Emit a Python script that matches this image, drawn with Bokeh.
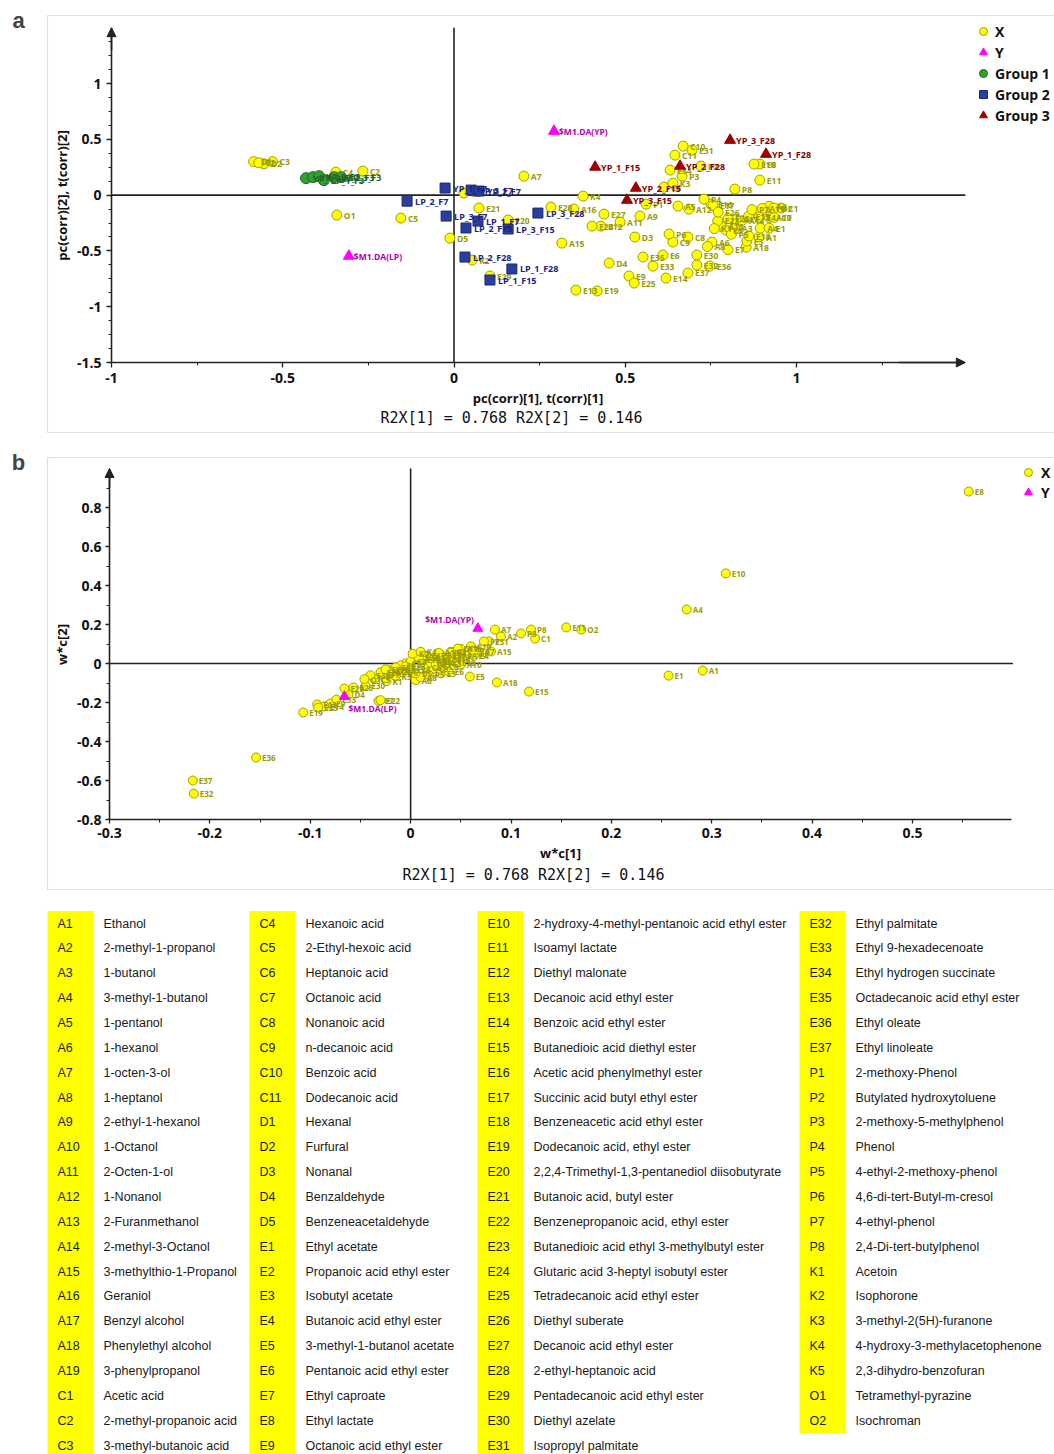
from bokeh.plotting import figure
from bokeh.models import (Range1d, Label, BoxAnnotation, Legend, LegendItem, LinearAxis,
                          SingleIntervalTicker, NumeralTickFormatter, Arrow, NormalHead,
                          ColumnDataSource)
from bokeh.layouts import column
from bokeh.embed import file_html
from bokeh.resources import INLINE
from bokeh.core.properties import value

# ---------------- data ----------------
codes = (["A%d" % i for i in range(1, 20)] + ["C%d" % i for i in range(1, 12)] +
         ["D%d" % i for i in range(1, 6)] + ["E%d" % i for i in range(1, 38)] +
         ["P%d" % i for i in range(1, 9)] + ["K%d" % i for i in range(1, 6)] +
         ["O1", "O2"])

names = [
    "Ethanol", "2-methyl-1-propanol", "1-butanol", "3-methyl-1-butanol", "1-pentanol",
    "1-hexanol", "1-octen-3-ol", "1-heptanol", "2-ethyl-1-hexanol", "1-Octanol",
    "2-Octen-1-ol", "1-Nonanol", "2-Furanmethanol", "2-methyl-3-Octanol",
    "3-methylthio-1-Propanol", "Geraniol", "Benzyl alcohol", "Phenylethyl alcohol",
    "3-phenylpropanol",
    "Acetic acid", "2-methyl-propanoic acid", "3-methyl-butanoic acid", "Hexanoic acid",
    "2-Ethyl-hexoic acid", "Heptanoic acid", "Octanoic acid", "Nonanoic acid",
    "n-decanoic acid", "Benzoic acid", "Dodecanoic acid",
    "Hexanal", "Furfural", "Nonanal", "Benzaldehyde", "Benzeneacetaldehyde",
    "Ethyl acetate", "Propanoic acid ethyl ester", "Isobutyl acetate",
    "Butanoic acid ethyl ester", "3-methyl-1-butanol acetate", "Pentanoic acid ethyl ester",
    "Ethyl caproate", "Ethyl lactate", "Octanoic acid ethyl ester",
    "2-hydroxy-4-methyl-pentanoic acid ethyl ester", "Isoamyl lactate", "Diethyl malonate",
    "Decanoic acid ethyl ester", "Benzoic acid ethyl ester", "Butanedioic acid diethyl ester",
    "Acetic acid phenylmethyl ester", "Succinic acid butyl ethyl ester",
    "Benzeneacetic acid ethyl ester", "Dodecanoic acid, ethyl ester",
    "2,2,4-Trimethyl-1,3-pentanediol diisobutyrate", "Butanoic acid, butyl ester",
    "Benzenepropanoic acid, ethyl ester", "Butanedioic acid ethyl 3-methylbutyl ester",
    "Glutaric acid 3-heptyl isobutyl ester", "Tetradecanoic acid ethyl ester",
    "Diethyl suberate", "Decanoic acid ethyl ester", "2-ethyl-heptanoic acid",
    "Pentadecanoic acid ethyl ester", "Diethyl azelate", "Isopropyl palmitate",
    "Ethyl palmitate", "Ethyl 9-hexadecenoate", "Ethyl hydrogen succinate",
    "Octadecanoic acid ethyl ester", "Ethyl oleate", "Ethyl linoleate",
    "2-methoxy-Phenol", "Butylated hydroxytoluene", "2-methoxy-5-methylphenol", "Phenol",
    "4-ethyl-2-methoxy-phenol", "4,6-di-tert-Butyl-m-cresol", "4-ethyl-phenol",
    "2,4-Di-tert-butylphenol",
    "Acetoin", "Isophorone", "3-methyl-2(5H)-furanone", "4-hydroxy-3-methylacetophenone",
    "2,3-dihydro-benzofuran",
    "Tetramethyl-pyrazine", "Isochroman"]

# panel a: X loadings (pc(corr)[1], pc(corr)[2]) in the order of `codes`
a_x = [0.891, 0.920, 0.820, 0.894, 0.654, 0.753, 0.204, 0.740, 0.543, 0.920,
       0.485, 0.686, 0.780, 0.840, 0.315, 0.350, 0.823, 0.853, 0.900,
       0.955, -0.266, -0.530, -0.345, -0.155, 0.613, 0.935, 0.683, 0.639, 0.669, 0.645,
       -0.585, -0.555, 0.528, 0.453, -0.012,
       0.920, -0.570, 0.855, 0.891, 0.794, 0.610, 0.800, 0.893, 0.511, 0.876,
       0.893, 0.429, 0.356, 0.619, 0.860, 0.750, 0.756, 0.861, 0.418, 0.158,
       0.073, 0.770, 0.800, 0.403, 0.526, 0.771, 0.438, 0.283, 0.105, 0.709,
       0.695, 0.709, 0.581, 0.631, 0.552, 0.747, 0.683,
       0.561, 0.721, 0.666, 0.730, 0.810, 0.628, 0.870, 0.820,
       0.760, 0.053, 0.639, 0.377, 0.029,
       -0.342, 0.934]
a_y = [-0.376, -0.100, -0.300, -0.296, -0.098, -0.421, 0.170, -0.460, -0.188, -0.200,
       -0.242, -0.125, -0.280, -0.230, -0.430, -0.125, -0.215, -0.466, -0.120,
       -0.116, 0.215, 0.300, 0.206, -0.206, 0.072, -0.200, -0.376, -0.421, 0.439, 0.358,
       0.300, 0.280, -0.376, -0.609, -0.385,
       -0.296, 0.290, -0.412, -0.197, -0.313, -0.537, -0.490, 0.278, -0.725, 0.278,
       0.134, -0.278, -0.851, -0.743, -0.190, -0.081, -0.095, -0.367, -0.859, -0.224,
       -0.116, -0.230, -0.210, -0.278, -0.788, -0.152, -0.170, -0.107, -0.725, -0.537,
       0.403, -0.627, -0.636, 0.224, -0.555, -0.636, -0.698,
       -0.081, 0.260, 0.170, -0.036, -0.350, -0.349, -0.130, 0.054,
       -0.300, -0.582, 0.107, -0.009, 0.018,
       -0.179, -0.116]

# panel a: sample scores by group
g1_names = ["YP_1_F3", "YP_2_F3", "YP_3_F3", "LP_1_F3", "LP_2_F3", "LP_3_F3"]
g1_x = [-0.432, -0.412, -0.394, -0.380, -0.350, -0.330]
g1_y = [0.152, 0.161, 0.170, 0.134, 0.161, 0.161]

g2_names = ["YP_1_F7", "YP_3_F7", "YP_2_F7", "LP_2_F7", "LP_3_F7", "LP_1_F7",
            "LP_2_F15", "LP_3_F15", "LP_3_F28", "LP_2_F28", "LP_1_F28", "LP_1_F15"]
g2_x = [-0.026, 0.050, 0.073, -0.137, -0.023, 0.070, 0.035, 0.158, 0.245, 0.032, 0.169, 0.105]
g2_y = [0.063, 0.045, 0.036, -0.054, -0.188, -0.233, -0.295, -0.304, -0.161, -0.555, -0.662, -0.761]

g3_names = ["YP_1_F15", "YP_2_F15", "YP_3_F15", "YP_2_F28", "YP_3_F28", "YP_1_F28"]
g3_x = [0.412, 0.531, 0.505, 0.660, 0.806, 0.911]
g3_y = [0.251, 0.063, -0.045, 0.260, 0.492, 0.367]

y_names = ["$M1.DA(YP)", "$M1.DA(LP)"]
ya_x = [0.292, -0.307]
ya_y = [0.573, -0.546]

# panel b: w*c[1], w*c[2] in the order of `codes`
b_x = [0.291, 0.090, 0.020, 0.275, 0.035, 0.005, 0.084, 0.010, 0.045, 0.050,
       0.030, 0.025, 0.018, -0.022, 0.080, 0.050, 0.028, 0.086, 0.055,
       0.124, 0.040, -0.005, 0.000, -0.036, 0.015, 0.068, 0.032, 0.022, 0.060, 0.047,
       -0.028, -0.020, -0.012, -0.062, 0.005,
       0.257, -0.010, 0.030, 0.063, 0.059, 0.038, -0.032, 0.556, -0.080, 0.314,
       0.155, 0.010, -0.093, -0.086, 0.118, 0.040, 0.015, 0.045, -0.107, -0.030,
       -0.015, -0.030, -0.005, 0.008, -0.092, -0.057, -0.025, 0.000, -0.066, -0.045,
       0.078, -0.216, -0.074, 0.020, -0.040, -0.154, -0.217,
       0.025, 0.040, 0.110, 0.063, 0.018, -0.008, 0.073, 0.120,
       -0.024, 0.002, 0.035, 0.010, -0.015,
       -0.046, 0.170]
b_y = [-0.036, 0.139, 0.010, 0.277, 0.030, -0.085, 0.174, -0.070, 0.040, -0.005,
       0.045, 0.020, 0.030, -0.035, 0.062, 0.075, 0.055, -0.097, 0.040,
       0.128, 0.060, 0.000, 0.012, -0.080, -0.020, 0.062, -0.015, -0.028, 0.088, 0.077,
       -0.055, -0.040, -0.030, -0.160, -0.050,
       -0.062, -0.010, -0.050, 0.040, -0.067, -0.040, -0.192, 0.882, -0.205, 0.462,
       0.185, 0.020, -0.210, -0.220, -0.144, 0.020, 0.040, 0.005, -0.251, -0.045,
       -0.020, -0.188, -0.015, 0.032, -0.226, -0.123, -0.030, -0.030, -0.128, -0.115,
       0.113, -0.667, -0.185, 0.005, -0.060, -0.482, -0.600,
       -0.005, 0.055, 0.154, 0.067, -0.058, -0.045, 0.113, 0.174,
       -0.090, 0.050, 0.000, 0.060, -0.065,
       -0.080, 0.174]
yb_x = [0.067, -0.066]
yb_y = [0.180, -0.169]

r2x_text = "R2X[1] = 0.768 R2X[2] = 0.146"

# axis extents (data units)
a_xlim, a_ylim = (-1.0, 1.493), (-1.5, 1.5)
b_xlim, b_ylim = (-0.3, 0.6), (-0.8, 1.0)

# ---------------- styles / layout ----------------
W = 1054
HA, HB, HT = 445, 452, 557
YEL, YEL_LINE, YEL_TXT = "#FFFF00", "#A0A000", "#9A9A00"
MAG, MAG_TXT = "#FF00FF", "#B000B0"
GRN, GRN_LINE, GRN_TXT = "#34A034", "#1E6E1E", "#226622"
BLU, BLU_LINE, BLU_TXT = "#2A3F9D", "#1A2A7A", "#1A237E"
RED, RED_TXT = "#A00000", "#800000"
AX = "#222222"
FONT = "Open Sans"


def make_panel(H, px_x, px_y):
    """px_x / px_y: two (data value, canvas pixel) reference pairs per axis."""
    (xv0, xp0), (xv1, xp1) = px_x
    (yv0, yp0), (yv1, yp1) = px_y
    sx = (xp1 - xp0) / (xv1 - xv0)
    sy = (yp0 - yp1) / (yv1 - yv0)
    x_start = xv0 - xp0 / sx
    y_top = yv0 + yp0 / sy
    p = figure(width=W, height=H, x_range=Range1d(x_start, x_start + W / sx),
               y_range=Range1d(y_top - H / sy, y_top), x_axis_location=None,
               y_axis_location=None, output_backend="svg", toolbar_location=None,
               outline_line_color=None, min_border=0)
    p.grid.visible = False
    return p


def add_axes(p, xlim, ylim, xend, yend, xint, xminor, yint, yminor, xlabel, ylabel,
             tick_out, standoff):
    xa = LinearAxis(fixed_location=ylim[0], bounds=(xlim[0] - 1e-4, xend),
                    ticker=SingleIntervalTicker(interval=xint, num_minor_ticks=xminor),
                    axis_label=xlabel)
    ya = LinearAxis(fixed_location=xlim[0], bounds=(ylim[0] - 1e-4, yend),
                    ticker=SingleIntervalTicker(interval=yint, num_minor_ticks=yminor),
                    axis_label=ylabel)
    for ax in (xa, ya):
        ax.formatter = NumeralTickFormatter(format="0.[0]")
        ax.axis_line_width = 1.6
        ax.axis_line_color = AX
        ax.major_tick_line_color = AX
        ax.major_tick_line_width = 1.3
        ax.minor_tick_line_color = AX
        ax.major_tick_in = 0
        ax.major_tick_out = tick_out
        ax.minor_tick_in = 0
        ax.minor_tick_out = 3
        ax.major_label_standoff = standoff
        ax.major_label_text_font = FONT
        ax.major_label_text_font_style = "bold"
        ax.major_label_text_font_size = "14px"
        ax.major_label_text_color = "#111111"
        ax.axis_label_text_font = FONT
        ax.axis_label_text_font_style = "bold"
        ax.axis_label_text_font_size = "13px"
        ax.axis_label_text_color = "#111111"
        ax.axis_label_standoff = 3
    p.add_layout(xa, "below")
    p.add_layout(ya, "left")
    # zero reference lines across the axis extents
    p.segment(x0=[xlim[0], 0], y0=[0, ylim[0]], x1=[xlim[1], 0], y1=[0, ylim[1]],
              line_color=AX, line_width=1.6)


def panel_frame(p, H, top, bottom, letter, r2x_x, r2x_y):
    p.add_layout(BoxAnnotation(left=47, right=3000, top=H - top, bottom=H - bottom,
                               left_units="screen", right_units="screen",
                               top_units="screen", bottom_units="screen",
                               fill_color=None, line_color="#9A9A9A", line_width=1.2))
    p.add_layout(Label(x=18, y=H - (top + 5), x_units="screen", y_units="screen", text=letter,
                       text_font="Liberation Sans", text_font_style="bold",
                       text_font_size="22px", text_align="center", text_baseline="middle"))
    p.add_layout(Label(x=r2x_x, y=H - r2x_y, x_units="screen", y_units="screen", text=r2x_text,
                       text_font="DejaVu Sans Mono", text_font_size="15px", text_align="center",
                       text_baseline="middle", text_color="#111111"))


def arrow(p, x0, y0, x1, y1):
    p.add_layout(Arrow(end=NormalHead(size=9, fill_color=AX, line_color=AX), x_start=x0,
                       y_start=y0, x_end=x1, y_end=y1, line_color=AX, line_width=1.6))


def labels(p, src, color, size, dx=7):
    p.text(x="x", y="y", text="t", source=src, x_offset=dx, text_baseline="middle",
           text_align="left", text_font=value(FONT), text_font_style="bold",
           text_font_size=size, text_color=color)


def legend(items, x_left, y_top, H, n, pitch, standoff):
    height = n * 20 + (n - 1) * (pitch - 20)
    return Legend(items=items, location=(x_left, H - (y_top + height)), glyph_width=20,
                  glyph_height=20, label_height=20, spacing=pitch - 20, padding=0, margin=0,
                  label_standoff=standoff, border_line_color=None, background_fill_alpha=0,
                  label_text_font=FONT, label_text_font_style="bold",
                  label_text_font_size="14px", label_text_color="#111111")


# ---------------- panel a ----------------
pa = make_panel(HA, ((-1.0, 111), (1.0, 796)), ((-1.5, 362), (1.0, 83)))
add_axes(pa, a_xlim, a_ylim, 1.49, 1.49, 0.5, 2, 0.5, 4,
         "pc(corr)[1], t(corr)[1]", "pc(corr)[2], t(corr)[2]", 5, 5)
arrow(pa, a_xlim[0], 1.3, a_xlim[0], a_ylim[1])
arrow(pa, 1.3, a_ylim[0], a_xlim[1], a_ylim[0])

srcA = ColumnDataSource(dict(x=a_x, y=a_y, t=codes))
rX = pa.scatter("x", "y", source=srcA, marker="circle", size=10, fill_color=YEL,
                line_color=YEL_LINE, line_width=1)
labels(pa, srcA, YEL_TXT, "8.5px")
src1 = ColumnDataSource(dict(x=g1_x, y=g1_y, t=g1_names))
r1 = pa.scatter("x", "y", source=src1, marker="circle", size=11, fill_color=GRN,
                line_color=GRN_LINE, line_width=1)
labels(pa, src1, GRN_TXT, "9px")
src2 = ColumnDataSource(dict(x=g2_x, y=g2_y, t=g2_names))
r2 = pa.scatter("x", "y", source=src2, marker="square", size=10, fill_color=BLU,
                line_color=BLU_LINE, line_width=1)
labels(pa, src2, BLU_TXT, "9px", dx=8)
src3 = ColumnDataSource(dict(x=g3_x, y=g3_y, t=g3_names))
r3 = pa.scatter("x", "y", source=src3, marker="triangle", size=11, fill_color=RED,
                line_color=RED, line_width=1)
labels(pa, src3, RED_TXT, "9px", dx=6)
srcYa = ColumnDataSource(dict(x=ya_x, y=ya_y, t=y_names))
rY = pa.scatter("x", "y", source=srcYa, marker="triangle", size=11, fill_color=MAG,
                line_color=MAG, line_width=1)
labels(pa, srcYa, MAG_TXT, "8.5px", dx=5)

pa.add_layout(legend([LegendItem(label="X", renderers=[rX]),
                      LegendItem(label="Y", renderers=[rY]),
                      LegendItem(label="Group 1", renderers=[r1]),
                      LegendItem(label="Group 2", renderers=[r2]),
                      LegendItem(label="Group 3", renderers=[r3])],
                     973, 21, HA, 5, 21, 2))
panel_frame(pa, HA, 15, 432, "a", 511, 417)

# ---------------- panel b ----------------
pb = make_panel(HB, ((-0.3, 109), (0.5, 912)), ((-0.8, 374), (0.8, 62)))
add_axes(pb, b_xlim, b_ylim, 0.5985, 0.995, 0.1, 2, 0.2, 2, "w*c[1]", "w*c[2]", 4, 4)
arrow(pb, b_xlim[0], 0.9, b_xlim[0], b_ylim[1])

srcB = ColumnDataSource(dict(x=b_x, y=b_y, t=codes))
rXb = pb.scatter("x", "y", source=srcB, marker="circle", size=9, fill_color=YEL,
                 line_color=YEL_LINE, line_width=1)
labels(pb, srcB, YEL_TXT, "8px", dx=6)
rYb = pb.scatter(x=yb_x, y=yb_y, marker="triangle", size=10, fill_color=MAG,
                 line_color=MAG, line_width=1)
pb.text(x=yb_x[:1], y=yb_y[:1], text=y_names[:1], x_offset=-4, y_offset=-9, text_align="right",
        text_baseline="middle", text_font=value(FONT), text_font_style="bold",
        text_font_size="8.5px", text_color=MAG_TXT)
pb.text(x=yb_x[1:], y=yb_y[1:], text=y_names[1:], x_offset=4, y_offset=12, text_align="left",
        text_baseline="middle", text_font=value(FONT), text_font_style="bold",
        text_font_size="8.5px", text_color=MAG_TXT)

pb.add_layout(legend([LegendItem(label="X", renderers=[rXb]),
                      LegendItem(label="Y", renderers=[rYb])],
                     1018, 17, HB, 2, 20, 3))
panel_frame(pb, HB, 12, 444, "b", 533, 429)

# ---------------- table ----------------
pt = figure(width=W, height=HT, x_range=Range1d(0, W), y_range=Range1d(HT, 0),
            x_axis_type=None, y_axis_type=None, output_backend="svg", toolbar_location=None,
            outline_line_color=None, min_border=0)
pt.grid.visible = False
col_left = [47, 249, 477, 799]
cell_w = 46
row0 = 26
pitch = 24.86
rows_per_col = 22
chunks = [list(range(k, min(k + rows_per_col, len(codes)))) for k in range(0, len(codes), rows_per_col)]
ql, qr, qt, qb = [], [], [], []
cx, cy, ct, nx, nt = [], [], [], [], []
for ci, idx in enumerate(chunks):
    ql.append(col_left[ci])
    qr.append(col_left[ci] + cell_w)
    qt.append(row0 - pitch / 2)
    qb.append(row0 - pitch / 2 + len(idx) * pitch)
    for r, k in enumerate(idx):
        cx.append(col_left[ci] + 10)
        cy.append(row0 + r * pitch)
        ct.append(codes[k])
        nx.append(col_left[ci] + 56)
        nt.append(names[k])
pt.quad(left=ql, right=qr, top=qt, bottom=qb, fill_color="#FFFF00", line_color=None)
pt.text(x=cx, y=cy, text=ct, text_baseline="middle", text_font=value("Liberation Sans"),
        text_font_size="12.5px", text_color="#1a1a1a")
pt.text(x=nx, y=cy, text=nt, text_baseline="middle", text_font=value("Liberation Sans"),
        text_font_size="12.5px", text_color="#1a1a1a")

layout = column(pa, pb, pt, spacing=0)
open("out.html", "w").write(file_html(layout, INLINE))
